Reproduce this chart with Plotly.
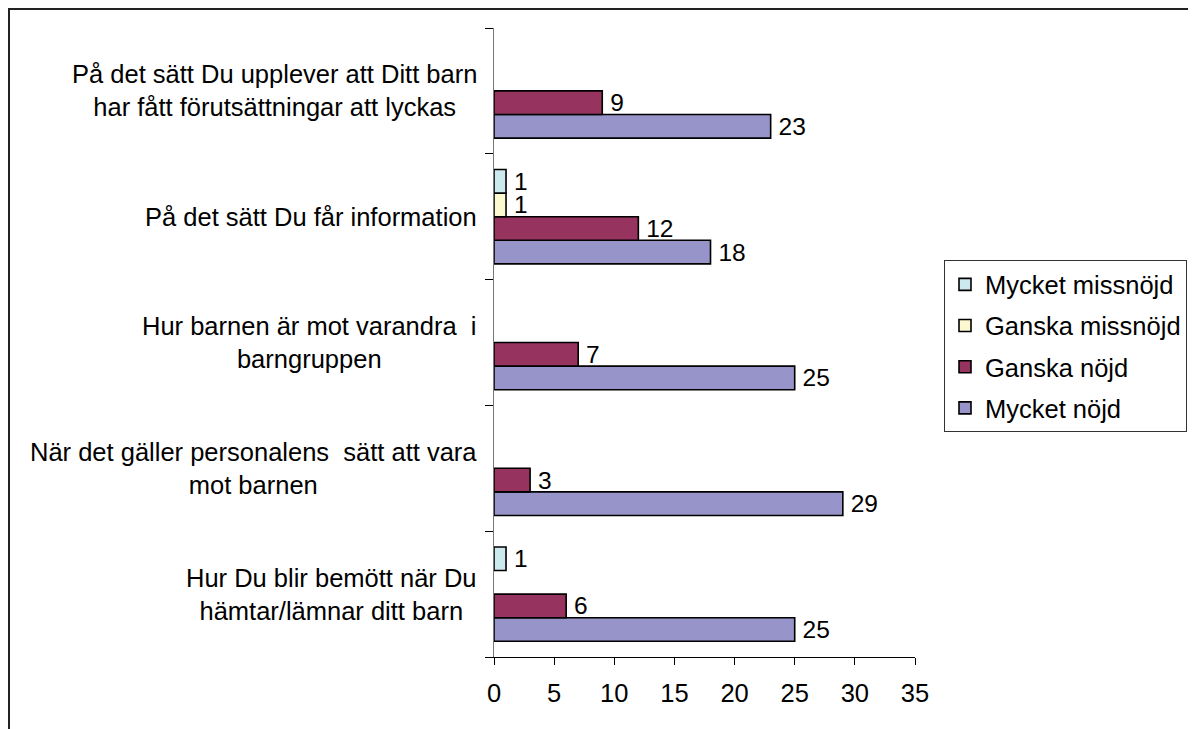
import plotly.graph_objects as go

# ---- data -------------------------------------------------------------
categories = [
    "Hur Du blir bemött när Du<br>hämtar/lämnar ditt barn",
    "När det gäller personalens\u00a0 sätt att vara<br>mot barnen",
    "Hur barnen är mot varandra\u00a0 i<br>barngruppen",
    "På det sätt Du får information",
    "På det sätt Du upplever att Ditt barn<br>har fått förutsättningar att lyckas",
]
mycket_nojd = [25, 29, 25, 18, 23]
ganska_nojd = [6, 3, 7, 12, 9]
ganska_missnojd = [None, None, None, 1, None]
mycket_missnojd = [1, None, None, 1, None]

series_names = ["Mycket nöjd", "Ganska nöjd", "Ganska missnöjd", "Mycket missnöjd"]
series_values = [mycket_nojd, ganska_nojd, ganska_missnojd, mycket_missnojd]
series_colors = ["#9694C8", "#96335E", "#FCF8CF", "#CCE9EF"]
legend_ranks = [4, 3, 2, 1]

x_ticks = [0, 5, 10, 15, 20, 25, 30, 35]

# ---- layout geometry (page pixels; page body has an 8px margin) -------
OFF = 8
W, H = 1196 - OFF, 729 - OFF
L, R, T, B = 494 - OFF, 915 - OFF, 27.5 - OFF, 657 - OFF
FONT = "Liberation Sans, Arial, sans-serif"
FS = 25.5
FS_LABEL = 24.5


def px_x(p):
    """page pixel x -> paper x"""
    return (p - OFF - L) / (R - L)


def px_y(p):
    """page pixel y -> paper y"""
    return (B - (p - OFF)) / (B - T)


fig = go.Figure()
for name, vals, col, rk in zip(series_names, series_values, series_colors, legend_ranks):
    fig.add_trace(go.Bar(
        name=name,
        legendgroup=name,
        legendrank=rk,
        y=categories,
        x=vals,
        orientation="h",
        marker=dict(color=col, line=dict(color="black", width=1.6)),
        text=["" if v is None else "\u2009" + str(v) for v in vals],
        textposition="outside",
        textfont=dict(family=FONT, size=FS_LABEL, color="black"),
        constraintext="none",
        cliponaxis=False,
        hoverinfo="skip",
    ))

annotations = []
for cat in categories:
    annotations.append(dict(
        x=px_x(479), xref="paper", xanchor="right",
        y=cat, yref="y", yanchor="middle",
        text=cat, showarrow=False, align="center",
        font=dict(family=FONT, size=FS, color="black"),
    ))

fig.update_layout(
    width=W, height=H,
    margin=dict(l=L, r=W - R, t=T, b=H - B, autoexpand=False),
    paper_bgcolor="white",
    plot_bgcolor="white",
    barmode="group",
    bargap=0.25,
    bargroupgap=0,
    font=dict(family=FONT, size=FS, color="black"),
    showlegend=True,
    legend=dict(
        x=px_x(944), y=px_y(260), xanchor="left", yanchor="top",
        traceorder="grouped",
        tracegroupgap=5,
        bordercolor="#333333", borderwidth=1,
        bgcolor="white",
        font=dict(family=FONT, size=FS, color="black"),
        itemwidth=30,
    ),
    xaxis=dict(
        range=[0, 35],
        tickvals=x_ticks,
        ticktext=[str(v) for v in x_ticks],
        showgrid=False, zeroline=False,
        showline=True, linecolor="black", linewidth=1,
        ticks="outside", ticklen=7, tickcolor="black", tickwidth=1,
        tickfont=dict(family=FONT, size=FS, color="black"),
        ticklabelstandoff=6,
        fixedrange=True,
    ),
    yaxis=dict(
        type="category",
        categoryorder="array", categoryarray=categories,
        range=[-0.5, 4.5],
        showgrid=False, zeroline=False,
        showline=True, linecolor="#777777", linewidth=1,
        ticks="outside", ticklen=8, tickcolor="black", tickwidth=1,
        tickson="boundaries",
        showticklabels=False,
        fixedrange=True,
    ),
    annotations=annotations,
    shapes=[dict(
        type="rect", xref="paper", yref="paper",
        x0=px_x(9), x1=px_x(1195), y0=px_y(760), y1=px_y(8.5),
        line=dict(color="#222222", width=2), fillcolor="rgba(0,0,0,0)",
        layer="above",
    )],
)

fig.write_html("out.html")
